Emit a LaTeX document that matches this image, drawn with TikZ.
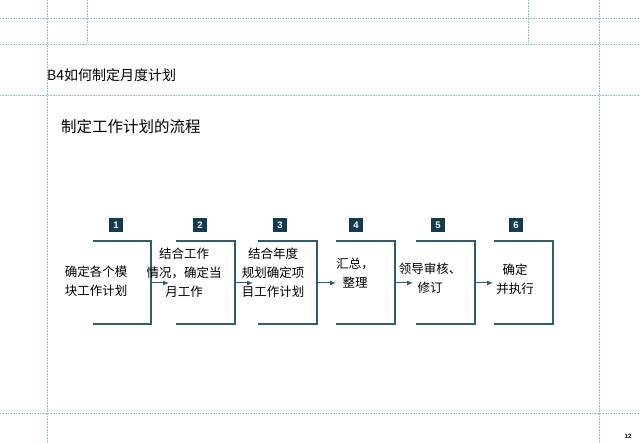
\documentclass[tikz,border=0pt]{standalone}
\usepackage{fontspec}
\setmainfont{Liberation Sans}
\newfontfamily\cjk{Noto Sans CJK SC}
\usetikzlibrary{arrows.meta}
\definecolor{guide}{HTML}{7CC4CC}
\definecolor{lineC}{HTML}{2F5F6E}
\definecolor{numC}{HTML}{143C4E}
\tikzset{
 guideln/.style={guide, densely dotted, line width=0.6pt},
 bracket/.style={lineC, line width=1.1pt},
 flow/.style={lineC, line width=1pt, -{Latex[length=6pt,width=5pt]}},
 numbox/.style={fill=numC, text=white, font=\bfseries\fontsize{9.5}{9.5}\selectfont, minimum size=14pt, inner sep=0pt},
 steptxt/.style={font=\cjk\fontsize{12.5}{19}\selectfont, align=center, inner sep=0pt},
}
\begin{document}
\begin{tikzpicture}[x=1pt,y=-1pt]
\useasboundingbox (0,0) rectangle (640,443);
\fill[white] (0,0) rectangle (640,443);
% guides
\draw[guideln] (0,18) -- (640,18);
\draw[guideln] (0,44) -- (640,44);
\draw[guideln] (0,95) -- (640,95);
\draw[guideln] (0,413) -- (640,413);
\draw[guideln] (47,0) -- (47,443);
\draw[guideln] (599,0) -- (599,443);
\draw[guideln] (87,0) -- (87,42);
\draw[guideln] (528,0) -- (528,42);
\node[anchor=west, font=\cjk\fontsize{14}{14}\selectfont, inner sep=0pt] (title) at (47,75) {B4如何制定月度计划};
\node[anchor=west, font=\cjk\fontsize{15.5}{16}\selectfont, inner sep=0pt] (sub) at (61,127) {制定工作计划的流程};
\node[font=\bfseries\fontsize{6}{6}\selectfont, inner sep=0pt] (pg) at (628,436) {12};
% boxes
\foreach \i/\l/\r/\n in {1/93/151/116, 2/176/235/200, 3/258/317/280, 4/336/395/356, 5/416/475/438, 6/494/553/516}{
  \draw[bracket] (\l,241) -- (\r,241) -- (\r,324) -- (\l,324);
  \coordinate (o\i) at (\r,283);
  \coordinate (in\i) at (\l,283);
  \node[numbox] (n\i) at (\n,225) {\i};
}
\node[steptxt] (t1) at (96,281) {确定各个模\\块工作计划};
\node[steptxt] (t2) at (184,273) {结合工作\\情况，确定当\\月工作};
\node[steptxt] (t3) at (273,273) {结合年度\\规划确定项\\目工作计划};
\node[steptxt] (t4) at (355,273) {汇总，\\整理};
\node[steptxt] (t5) at (430,278) {领导审核、\\修订};
\node[steptxt] (t6) at (515,279) {确定\\并执行};
\draw[flow] (o1) -- ++(18,0) coordinate (a1);
\draw[flow] (o2) -- ++(18,0) coordinate (a2);
\draw[flow] (o3) -- ++(19,0) coordinate (a3);
\draw[flow] (o4) -- ++(18,0) coordinate (a4);
\draw[flow] (o5) -- ++(18,0) coordinate (a5);
\end{tikzpicture}
\end{document}
